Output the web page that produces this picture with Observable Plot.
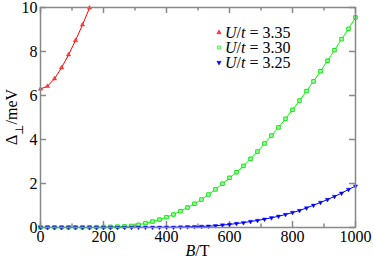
<!DOCTYPE html>
<html><head><meta charset="utf-8">
<script src="https://cdn.jsdelivr.net/npm/d3@7"></script>
<script src="https://cdn.jsdelivr.net/npm/@observablehq/plot@0.6"></script>
<style>
body{margin:0;background:#fff}
svg, svg text, svg tspan{font-family:"Liberation Serif","DejaVu Serif",serif !important}
</style>
</head><body><div id="chart"></div>
<script>
// magnetic field B/T sampling grid
const B = [0, 22.2, 44.4, 66.7, 88.9, 111.1, 133.3, 155.6, 177.8, 200,
  222.2, 244.4, 266.7, 288.9, 311.1, 333.3, 355.6, 377.8, 400, 422.2,
  444.4, 466.7, 488.9, 511.1, 533.3, 555.6, 577.8, 600, 622.2, 644.4,
  666.7, 688.9, 711.1, 733.3, 755.6, 777.8, 800, 822.2, 844.4, 866.7,
  888.9, 911.1, 933.3, 955.6, 977.8, 1000];
// Δ⊥ / meV
const delta335 = [6.30, 6.42, 6.76, 7.26, 7.85, 8.50, 9.21, 9.98];
const delta330 = [0.01, 0.01, 0.01, 0.01, 0.01, 0.01, 0.01, 0.01, 0.015, 0.02,
  0.03, 0.04, 0.05, 0.07, 0.12, 0.20, 0.27, 0.36, 0.47, 0.59,
  0.74, 0.91, 1.08, 1.27, 1.50, 1.73, 1.99, 2.26, 2.51, 2.80,
  3.12, 3.45, 3.82, 4.18, 4.55, 4.94, 5.35, 5.77, 6.20, 6.64,
  7.10, 7.58, 8.06, 8.56, 9.03, 9.55];
const delta325 = [0.0, 0.0, 0.0, 0.0, 0.0, 0.0, 0.0, 0.0, 0.0, 0.0,
  0.0, 0.0, 0.005, 0.005, 0.01, 0.01, 0.01, 0.01, 0.015, 0.015,
  0.02, 0.03, 0.04, 0.05, 0.06, 0.08, 0.11, 0.14, 0.18, 0.22,
  0.27, 0.32, 0.38, 0.44, 0.51, 0.59, 0.68, 0.77, 0.89, 1.01,
  1.14, 1.27, 1.41, 1.56, 1.73, 1.88];
const seriesLabels = ["3.35", "3.30", "3.25"];
const xMajorTicks = [0, 200, 400, 600, 800, 1000];
const xMinorTicks = [100, 300, 500, 700, 900];
const yMajorTicks = [0, 2, 4, 6, 8, 10];

const red = delta335.map((d, i) => ({B: B[i], D: d}));
const green = delta330.map((d, i) => ({B: B[i], D: d}));
const blue = delta325.map((d, i) => ({B: B[i], D: d}));

const triangleDown = {
  draw(ctx, size) {
    const y = -Math.sqrt(size / (Math.sqrt(3) * 3));
    ctx.moveTo(0, -2 * y);
    ctx.lineTo(-Math.sqrt(3) * y, y);
    ctx.lineTo(Math.sqrt(3) * y, y);
    ctx.closePath();
  }
};

const FONT = '"Liberation Serif","DejaVu Serif",serif';
const W = 374, H = 259, mL = 40, mR = 19, mT = 7, mB = 32;
const fw = W - mL - mR, fh = H - mT - mB;
const axisColor = "#888";
const major = 6, minor = 3.5;

const svg = Plot.plot({
  width: W, height: H,
  marginLeft: mL, marginRight: mR, marginTop: mT, marginBottom: mB,
  style: {fontSize: "16px", background: "#fff", color: "#000"},
  x: {domain: [0, 1000], axis: null},
  y: {domain: [0, 10], axis: null},
  marks: [
    Plot.axisX(xMajorTicks, {tickSize: 0, tickPadding: 3, fontSize: 16, fontFamily: FONT, fontVariant: "normal", label: null, anchor: "bottom", tickFormat: d => String(d)}),
    Plot.axisY(yMajorTicks, {tickSize: 0, tickPadding: 3, fontSize: 16, fontFamily: FONT, fontVariant: "normal", label: null, anchor: "left", tickFormat: d => String(d)}),
    Plot.tickX(xMajorTicks, {x: d => d, insetTop: fh - major, stroke: axisColor, strokeWidth: 1.5}),
    Plot.tickX(xMajorTicks, {x: d => d, insetBottom: fh - major, stroke: axisColor, strokeWidth: 1.5}),
    Plot.tickX(xMinorTicks, {x: d => d, insetTop: fh - minor, stroke: axisColor, strokeWidth: 1.5}),
    Plot.tickX(xMinorTicks, {x: d => d, insetBottom: fh - minor, stroke: axisColor, strokeWidth: 1.5}),
    Plot.tickY(yMajorTicks, {y: d => d, insetRight: fw - major, stroke: axisColor, strokeWidth: 1.5}),
    Plot.tickY(yMajorTicks, {y: d => d, insetLeft: fw - major, stroke: axisColor, strokeWidth: 1.5}),
    Plot.line(green, {x: "B", y: "D", stroke: "#00ff00", strokeWidth: 1}),
    Plot.line(blue, {x: "B", y: "D", stroke: "#0000ff", strokeWidth: 1}),
    Plot.line(red, {x: "B", y: "D", stroke: "#ff0000", strokeWidth: 1}),
    Plot.dot(green, {x: "B", y: "D", symbol: "square", r: 2.0, fill: "#a8ffa8", stroke: "#00e000", strokeWidth: 0.9}),
    Plot.dot(blue, {x: "B", y: "D", symbol: triangleDown, r: 1.6, fill: "#0000ff", stroke: "#0000ff", strokeWidth: 0.4}),
    Plot.dot(red, {x: "B", y: "D", symbol: "triangle", r: 1.6, fill: "#ff4040", stroke: "#ff0000", strokeWidth: 0.4}),
    Plot.frame({stroke: axisColor, strokeWidth: 1.5})
  ]
});

const s = d3.select(svg);
s.attr("font-family", FONT).style("font-family", FONT);
s.selectAll("g, text, tspan").attr("font-family", FONT).style("font-family", FONT).attr("font-variant", null).style("font-variant", "normal");

// axis labels
const xl = s.append("text").attr("x", mL + fw / 2).attr("y", 256)
  .attr("text-anchor", "middle").attr("font-size", 16).attr("fill", "#000").style("font-family", FONT);
xl.append("tspan").attr("font-style", "italic").text("B");
xl.append("tspan").text("/T");

const yl = s.append("text").attr("transform", `translate(17,${mT + fh / 2}) rotate(-90)`)
  .attr("text-anchor", "middle").attr("font-size", 16).attr("fill", "#000").style("font-family", FONT);
yl.append("tspan").text("Δ");
yl.append("tspan").attr("font-size", 11).attr("baseline-shift", "sub").text("⊥");
yl.append("tspan").attr("baseline-shift", "0").text("/meV");

// legend
const legendSym = [d3.symbol(d3.symbolTriangle, 8)(), d3.symbol(d3.symbolSquare, 10)(), d3.symbol(triangleDown, 8)()];
const legendFill = ["#ff4040", "#a8ffa8", "#0000ff"];
const legendStroke = ["#ff0000", "#00e000", "#0000ff"];
seriesLabels.forEach((lab, i) => {
  const cy = 32.5 + i * 15;
  s.append("path").attr("d", legendSym[i]).attr("transform", `translate(219,${cy})`)
    .attr("fill", legendFill[i]).attr("stroke", legendStroke[i]).attr("stroke-width", 0.5);
  const t = s.append("text").attr("x", 225).attr("y", cy + 5.5).attr("font-size", 16)
    .attr("text-anchor", "start").attr("fill", "#000").style("font-family", FONT);
  t.append("tspan").attr("font-style", "italic").text("U");
  t.append("tspan").text("/");
  t.append("tspan").attr("font-style", "italic").text("t");
  t.append("tspan").text(" = " + lab);
});

document.getElementById("chart").appendChild(svg);
</script>
</body></html>
